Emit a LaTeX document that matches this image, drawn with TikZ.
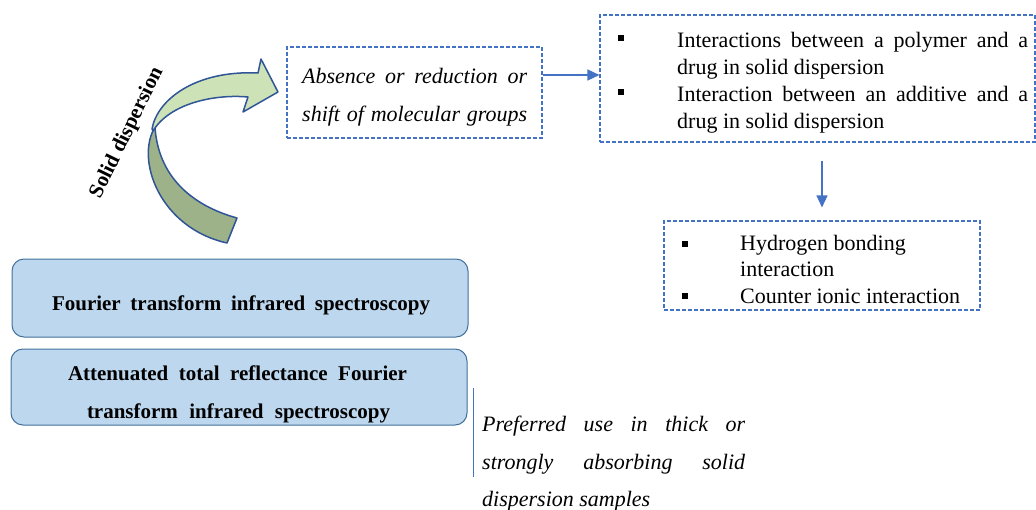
\documentclass[tikz,border=0pt]{standalone}
\usepackage{fontspec}
\setmainfont{Liberation Serif}
\usetikzlibrary{arrows.meta}
\definecolor{dashblue}{HTML}{4472C4}
\definecolor{boxfill}{HTML}{BDD7EE}
\definecolor{boxline}{HTML}{41719C}
\definecolor{arrowline}{HTML}{2F5597}
\definecolor{greenlight}{HTML}{CDE2B7}
\definecolor{greendark}{HTML}{9DB289}
\tikzset{
  dashbox/.style={draw=dashblue, line width=1.1pt, dash pattern=on 4pt off 2pt, inner sep=0pt},
  roundbox/.style={draw=boxline, line width=1pt, fill=boxfill, rounded corners=12pt, inner sep=0pt},
  txt/.style={inner sep=0pt, anchor=base west, font=\fontsize{22}{26}\selectfont},
  itxt/.style={txt, font=\fontsize{22}{26}\selectfont\itshape},
  btxt/.style={inner sep=0pt, anchor=base, font=\fontsize{21}{26}\selectfont\bfseries},
  bullet/.style={fill=black, inner sep=0pt, minimum size=6pt},
  link/.style={draw=dashblue, line width=1.3pt, -{Triangle[length=12pt,width=11pt]}},
  swoosh/.style={draw=arrowline, line width=1.5pt, line join=round}
}
\begin{document}
\begin{tikzpicture}[x=1pt,y=-1pt]
\useasboundingbox (0,0) rectangle (1036,509);

% curved arrow: dark tail running down, light band sweeping up into the head
\path[swoosh, fill=greendark]
  (155,127) .. controls (135,160) and (160,228) .. (227,243)
  -- (237,218) .. controls (190,205) and (158,175) .. (155,127) -- cycle;
\path[swoosh, fill=greenlight]
  (152,129) .. controls (157,100) and (195,70) .. (258,73)
  -- (261,59) -- (278,92) -- (243,112) -- (248,97)
  .. controls (215,94) and (170,103) .. (153,131) -- cycle;
\node[rotate=64, inner sep=0pt, font=\fontsize{21}{26}\selectfont\bfseries] (soliddisp) at (127,133) {Solid dispersion};

% dashed boxes
\node[dashbox, minimum width=255pt, minimum height=91pt] (absence) at (414.5,92.5) {};
\node[itxt] (absA) at (302,83) {\makebox[225pt][s]{Absence or reduction or}};
\node[itxt] (absB) at (302,121) {\makebox[225pt][s]{shift of molecular groups}};

\node[dashbox, minimum width=435pt, minimum height=127pt] (interact) at (817.5,78.5) {};
\node[bullet] (ib1) at (621,38) {};
\node[txt] (iA) at (677,47) {\makebox[351pt][s]{Interactions between a polymer and a}};
\node[txt] (iB) at (677,74) {drug in solid dispersion};
\node[bullet] (ib2) at (621,92) {};
\node[txt] (iC) at (677,101) {\makebox[351pt][s]{Interaction between an additive and a}};
\node[txt] (iD) at (677,128) {drug in solid dispersion};

\node[dashbox, minimum width=316pt, minimum height=89pt] (bonding) at (822,265.5) {};
\node[bullet] (bb1) at (685,244) {};
\node[txt] (bA) at (740,250) {Hydrogen bonding};
\node[txt] (bB) at (740,276.5) {interaction};
\node[bullet] (bb2) at (685,296) {};
\node[txt] (bC) at (740,303) {Counter ionic interaction};

% connectors
\draw[link] (absence.east |- 0,75) -- (interact.west |- 0,75);
\draw[link, shorten <=18pt, shorten >=13pt] (bonding.north |- interact.south) -- (bonding.north);

% technique boxes
\node[roundbox, minimum width=456pt, minimum height=78pt] (ftir) at (240,298) {};
\node[btxt] (ftirtext) at (241,310) {\makebox[378pt][s]{Fourier transform infrared spectroscopy}};
\node[roundbox, minimum width=456pt, minimum height=76pt] (atr) at (239,387) {};
\node[btxt] (atrA) at (237.5,380) {\makebox[339pt][s]{Attenuated total reflectance Fourier}};
\node[btxt] (atrB) at (238.5,418) {\makebox[303pt][s]{transform infrared spectroscopy}};

% note beside the ATR box
\coordinate (ntop) at (473,388);
\coordinate (nbot) at (473,477);
\draw[dashblue, line width=1pt] (ntop) -- (nbot);
\node[itxt] (nA) at (482,431) {\makebox[263pt][s]{Preferred use in thick or}};
\node[itxt] (nB) at (482,469) {\makebox[263pt][s]{strongly absorbing solid}};
\node[itxt] (nC) at (482,506) {dispersion samples};
\end{tikzpicture}
\end{document}
